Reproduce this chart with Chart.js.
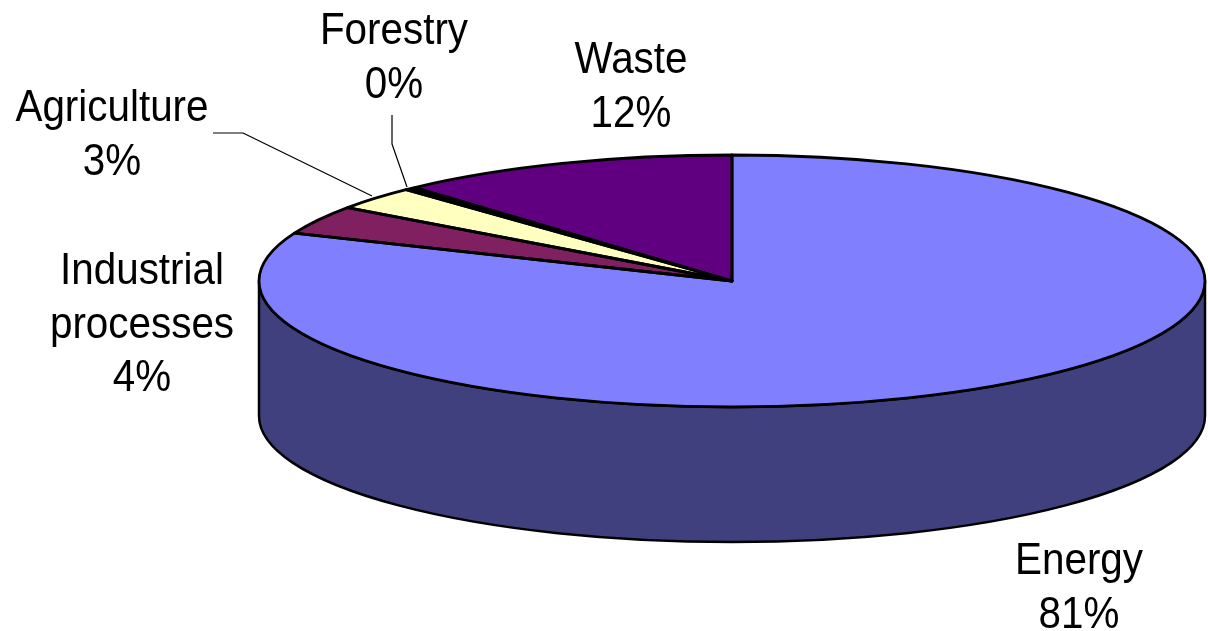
<!DOCTYPE html>
<html>
<head>
<meta charset="utf-8">
<style>
  html, body { margin:0; padding:0; background:#fff; }
  #wrap { width:1208px; height:631px; }
</style>
<script src="https://cdn.jsdelivr.net/npm/chart.js@4/dist/chart.umd.js"></script>
</head>
<body>
<div id="wrap"><canvas id="pie" width="1208" height="631"></canvas></div>
<script>
const categories = ["Energy","Industrial processes","Agriculture","Forestry","Waste"];
const shares = [81.2, 3.7, 3.0, 0.4, 11.7];
const shareLabels = ["81%","4%","3%","0%","12%"];
const topColors = ["#8080ff","#802060","#ffffc0","#000000","#600080"];
const wallColors = ["#40407f","#401030","#80805f","#000000","#300040"];

// fake 3d look: tilt squashes the circle, depth is the height of the wall
const radius = 473, tilt = 126/473, depth = 135;
const fontPx = 40.4, textStretch = 1.1, lineGap = 53.5;

// one entry per category: text lines, centre x, first baseline
const textSpots = [
  {lines:["Energy"], x:1079, y:574},
  {lines:["Industrial","processes"], x:142, y:284},
  {lines:["Agriculture"], x:112, y:121},
  {lines:["Forestry"], x:394, y:44},
  {lines:["Waste"], x:631, y:73}
];
const leaders = [
  [[213,133],[243,133],[372,196]],
  [[392,115],[392,144],[407,187]]
];

function visibleWall(a){
  // the wall only shows between the right and left ends of the ellipse
  const s = Math.max(a.startAngle, 0), e = Math.min(a.endAngle, Math.PI);
  return e > s ? [s, e] : null;
}

const pie3d = {
  id:"pie3d",
  beforeDatasetsDraw(chart){
    const ctx = chart.ctx, arcs = chart.getDatasetMeta(0).data;
    const cx = arcs[0].x, cy = arcs[0].y, ry = radius*tilt;
    arcs.forEach((a,i)=>{
      const v = visibleWall(a);
      if(!v) return;
      ctx.beginPath();
      ctx.ellipse(cx, cy, radius, ry, 0, v[0], v[1]);
      ctx.ellipse(cx, cy+depth, radius, ry, 0, v[1], v[0], true);
      ctx.closePath();
      ctx.fillStyle = wallColors[i];
      ctx.fill();
      ctx.strokeStyle = "#000";
      ctx.lineWidth = 2.5;
      ctx.stroke();
    });
    ctx.save();
    ctx.translate(0, cy);
    ctx.scale(1, tilt);
    ctx.translate(0, -cy);
  },
  afterDatasetsDraw(chart){
    const ctx = chart.ctx, arcs = chart.getDatasetMeta(0).data;
    ctx.restore();
    const cx = arcs[0].x, cy = arcs[0].y, ry = radius*tilt;
    ctx.strokeStyle = "#000";
    ctx.lineWidth = 2.8;
    ctx.lineJoin = "round";
    arcs.forEach(a=>{
      ctx.beginPath();
      ctx.moveTo(cx, cy);
      ctx.ellipse(cx, cy, radius, ry, 0, a.startAngle, a.endAngle);
      ctx.closePath();
      ctx.stroke();
    });

    ctx.lineWidth = 1.2;
    leaders.forEach(l=>{
      ctx.beginPath();
      l.forEach((p,i)=> i ? ctx.lineTo(p[0],p[1]) : ctx.moveTo(p[0],p[1]));
      ctx.stroke();
    });

    ctx.fillStyle = "#000";
    ctx.font = fontPx + 'px "Liberation Sans", Arial, sans-serif';
    ctx.textAlign = "center";
    ctx.textBaseline = "alphabetic";
    textSpots.forEach((t,i)=>{
      [...t.lines, shareLabels[i]].forEach((s,j)=>{
        // reference text is a bit taller than it is wide
        ctx.save();
        ctx.translate(t.x, t.y + j*lineGap);
        ctx.scale(1, textStretch);
        ctx.fillText(s, 0, 0);
        ctx.restore();
      });
    });
  }
};

new Chart(document.getElementById("pie"), {
  type:"pie",
  data:{ labels:categories, datasets:[{ data:shares, backgroundColor:topColors, borderWidth:0, clip:false }]},
  options:{
    responsive:false,
    animation:false,
    radius:radius,
    layout:{ padding:{ left:256, right:0, top:0, bottom:69 } },
    plugins:{ legend:{ display:false }, tooltip:{ enabled:false } }
  },
  plugins:[pie3d]
});
</script>
</body>
</html>
